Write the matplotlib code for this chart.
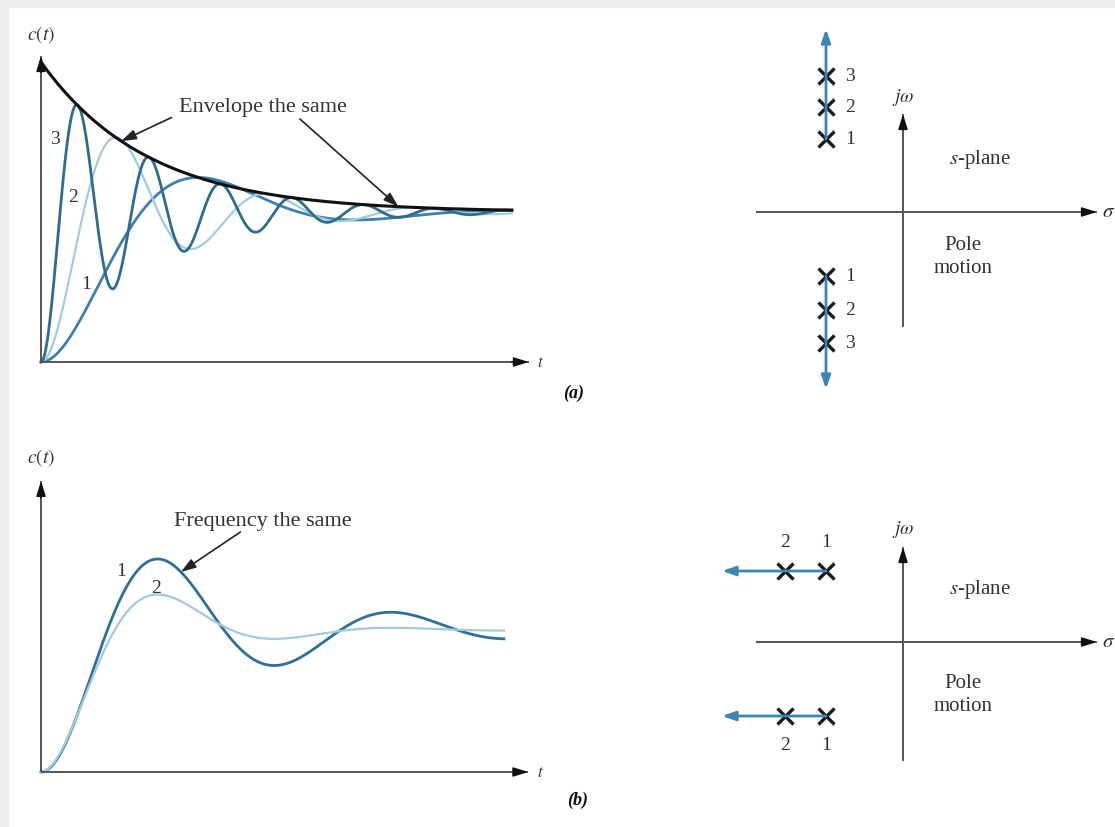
import numpy as np
import matplotlib
matplotlib.use("Agg")
import matplotlib.pyplot as plt
from matplotlib.patches import Rectangle

plt.rcParams["font.family"] = ["Liberation Serif", "DejaVu Serif"]
plt.rcParams["mathtext.fontset"] = "stix"

W, H = 1115, 828

# (a) same real part, growing imaginary part -> curves 1, 2, 3
A_SIGMA = 1.0
A_OMEGA = [2.14, 4.5, 9.4]
A_COLORS = ["#3f80aa", "#a3cbe0", "#2f6c8f"]
A_T_END = 4.4
A_LABELS = ["1", "2", "3"]
A_LABEL_T = [0.42, 0.30, 0.13]
A_LABEL_C = [0.52, 1.10, 1.49]

# (b) same imaginary part, growing real part -> curves 1, 2
B_OMEGA = np.pi
B_SIGMA = [0.693, 1.386]
B_COLORS = ["#2f6f98", "#a3c9de"]
B_T_END = 3.97
B_LABELS = ["1", "2"]
B_LABEL_T = [0.69, 0.99]
B_LABEL_C = [1.42, 1.30]

# pole diagrams (schematic s-plane units)
PA_RE = -0.77
PA_IM_UP = [0.73, 1.05, 1.36]
PA_IM_DN = [-0.64, -0.98, -1.31]
PB_RE = [-0.77, -1.18]
PB_IM = [0.71, -0.74]

TXT = "#333333"


def step(t, s, w):
    return 1 - np.exp(-s * t) * (np.cos(w * t) + s / w * np.sin(w * t))


def px_axes(fig, ox, oy, sx, sy, box):
    """axes over pixel box (x0, y0, x1, y1), origin at pixel (ox, oy), sx/sy px per unit"""
    x0, y0, x1, y1 = box
    ax = fig.add_axes([x0 / W, 1 - y1 / H, (x1 - x0) / W, (y1 - y0) / H])
    ax.set_xlim((x0 - ox) / sx, (x1 - ox) / sx)
    ax.set_ylim((oy - y1) / sy, (oy - y0) / sy)
    ax.axis("off")
    return ax


def axis_arrow(ax, p0, p1, back):
    ax.plot([p0[0], p1[0]], [p0[1], p1[1]], color="#555555", lw=1.4, solid_capstyle="butt")
    ax.annotate("", xy=p1, xytext=back, annotation_clip=False,
                arrowprops=dict(arrowstyle="-|>,head_length=0.9,head_width=0.28",
                                color="#111111", lw=1.2, shrinkA=0, shrinkB=0))


def pointer(ax, tail, tip):
    ax.annotate("", xy=tip, xytext=tail, annotation_clip=False,
                arrowprops=dict(arrowstyle="-|>,head_length=0.9,head_width=0.3",
                                color="#222222", lw=1.2, shrinkA=0, shrinkB=0))


def blue_arrow(ax, p0, p1):
    ax.annotate("", xy=p1, xytext=p0, annotation_clip=False,
                arrowprops=dict(arrowstyle="-|>,head_length=0.8,head_width=0.28",
                                color="#3d85b5", lw=2.0, shrinkA=0, shrinkB=0))


fig = plt.figure(figsize=(W / 100, H / 100), dpi=100)
fig.patches.append(Rectangle((0, 1 - 8 / H), 1, 8 / H, transform=fig.transFigure,
                             color="#eeeeee", zorder=0))
fig.patches.append(Rectangle((0, 0), 8 / W, 1, transform=fig.transFigure,
                             color="#eeeeee", zorder=0))

# ---- (a) responses
ax = px_axes(fig, 41, 363, 107, 150, (15, 15, 570, 400))
t = np.linspace(0, A_T_END, 1500)
for w, col in zip(A_OMEGA, A_COLORS):
    lw = 1.6 if col == A_COLORS[1] else 2.0
    ax.plot(t, step(t, A_SIGMA, w), color=col, lw=lw)
ax.plot(t, 1 + np.exp(-A_SIGMA * t), color="#111111", lw=2.2)
for lab, tx, cy in zip(A_LABELS, A_LABEL_T, A_LABEL_C):
    ax.text(tx, cy, lab, fontsize=14, color=TXT, ha="center", va="center")
axis_arrow(ax, (0, 0), (4.56, 0), (4.4, 0))
axis_arrow(ax, (0, 0), (0, 2.04), (0, 1.93))
ax.text(0, 2.19, "$c(t)$", fontsize=14, color=TXT, ha="center", va="center")
ax.text(4.67, 0, "$t$", fontsize=12, color=TXT, ha="center", va="center")
ax.text(2.07, 1.70, "Envelope the same", fontsize=16, color=TXT, ha="center", va="center")
for tail, tt in [((1.22, 1.63), 0.75), ((2.42, 1.62), 3.34)]:
    pointer(ax, tail, (tt, 1 + np.exp(-A_SIGMA * tt)))
fig.text(574 / W, 1 - 393 / H, "(a)", fontsize=13, fontweight="bold", fontstyle="italic",
         color="#111111", ha="center", va="center")

# ---- (a) poles
ax = px_axes(fig, 903, 213, 100, 100, (720, 15, 1115, 400))
axis_arrow(ax, (-1.47, 0), (1.94, 0), (1.8, 0))
axis_arrow(ax, (0, -1.15), (0, 0.98), (0, 0.85))
ax.text(1.99, 0, r"$\sigma$", fontsize=15, color=TXT, ha="left", va="center")
ax.text(0, 1.15, r"$j\omega$", fontsize=14, color=TXT, ha="center", va="center")
blue_arrow(ax, (PA_RE, PA_IM_UP[0]), (PA_RE, 1.83))
blue_arrow(ax, (PA_RE, PA_IM_DN[0]), (PA_RE, -1.77))
for i, (u, d) in enumerate(zip(PA_IM_UP, PA_IM_DN)):
    ax.plot([PA_RE, PA_RE], [u, d], "x", ms=11, mew=2.4, color="#1a1a1a")
    ax.text(PA_RE + 0.19, u, str(i + 1), fontsize=14, color=TXT, ha="left", va="center")
    ax.text(PA_RE + 0.19, d, str(i + 1), fontsize=14, color=TXT, ha="left", va="center")
ax.text(0.77, 0.53, "$s$-plane", fontsize=15, color=TXT, ha="center", va="center")
ax.text(0.60, -0.44, "Pole\nmotion", fontsize=15, color=TXT, ha="center", va="center",
        linespacing=1.3)

# ---- (b) responses
ax = px_axes(fig, 41, 773, 116.6, 142, (15, 440, 570, 815))
t = np.linspace(0, B_T_END, 1500)
for s, col, lw in zip(B_SIGMA, B_COLORS, [2.0, 1.6]):
    ax.plot(t, step(t, s, B_OMEGA), color=col, lw=lw)
for lab, tx, cy in zip(B_LABELS, B_LABEL_T, B_LABEL_C):
    ax.text(tx, cy, lab, fontsize=14, color=TXT, ha="center", va="center")
axis_arrow(ax, (0, 0), (4.18, 0), (4.05, 0))
axis_arrow(ax, (0, 0), (0, 2.05), (0, 1.93))
ax.text(0, 2.22, "$c(t)$", fontsize=14, color=TXT, ha="center", va="center")
ax.text(4.28, 0, "$t$", fontsize=12, color=TXT, ha="center", va="center")
ax.text(1.90, 1.77, "Frequency the same", fontsize=16, color=TXT, ha="center", va="center")
pointer(ax, (1.71, 1.69), (1.2, step(1.2, B_SIGMA[0], B_OMEGA)))
fig.text(578 / W, 1 - 800 / H, "(b)", fontsize=13, fontweight="bold", fontstyle="italic",
         color="#111111", ha="center", va="center")

# ---- (b) poles
ax = px_axes(fig, 903, 643, 100, 100, (700, 480, 1115, 800))
axis_arrow(ax, (-1.47, 0), (1.94, 0), (1.8, 0))
axis_arrow(ax, (0, -1.19), (0, 0.95), (0, 0.82))
ax.text(1.99, 0, r"$\sigma$", fontsize=15, color=TXT, ha="left", va="center")
ax.text(0, 1.13, r"$j\omega$", fontsize=14, color=TXT, ha="center", va="center")
for im in PB_IM:
    blue_arrow(ax, (PB_RE[0], im), (-1.81, im))
    ax.plot(PB_RE, [im, im], "x", ms=11, mew=2.4, color="#1a1a1a")
    off = 0.29 if im > 0 else -0.29
    for i, re in enumerate(PB_RE):
        ax.text(re, im + off, str(i + 1), fontsize=14, color=TXT, ha="center", va="center")
ax.text(0.77, 0.53, "$s$-plane", fontsize=15, color=TXT, ha="center", va="center")
ax.text(0.60, -0.52, "Pole\nmotion", fontsize=15, color=TXT, ha="center", va="center",
        linespacing=1.3)

fig.savefig("out.png", dpi=100)
